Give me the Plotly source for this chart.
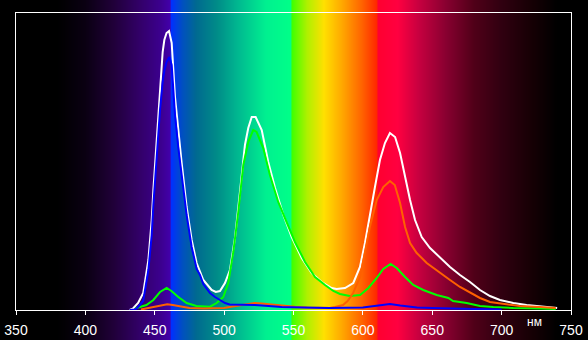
import base64
import struct
import zlib

import numpy as np
import plotly.graph_objects as go

# ---- data (relative intensity, arbitrary units) ----
white_nm = [432, 434.5, 438, 441.7, 445.4, 447.8, 449, 451.4, 453.8, 455.7, 456.9, 458.5, 460.3,
            462.2, 464.6, 467, 469.4, 473, 476.6, 480.2, 485, 491, 494, 497, 500.6, 504.2,
            507.8, 511.4, 515, 517.4, 519.9, 522.7, 527.1, 531.8, 536.7, 542.7, 548.7, 555.9,
            563.1, 570.3, 577.5, 581.1, 587.1, 593.1, 597.9, 601.5, 605.1, 608.7, 612.3, 615.9,
            619.5, 623.2, 626.8, 630.4, 634, 637.6, 642.4, 648.4, 655.6, 662.8, 670, 677.2,
            684.4, 691.6, 698.8, 708.4, 718, 727.7, 737.3, 740]
white_val = [0, 1.7, 7, 17, 50, 90, 120, 172, 222, 258, 270, 277, 279,
             267, 213, 177, 147, 103, 70, 47, 30, 20, 18, 19, 27, 40,
             72, 118, 165, 182, 193, 193, 180, 148, 122, 95, 73, 52,
             37, 28, 22, 21, 22, 27, 43, 67, 97, 123, 150, 167,
             177, 173, 157, 133, 110, 90, 73, 62, 52, 43, 35, 28,
             20, 14, 10, 7, 5, 4, 3, 2]

green_nm = [435.8, 444, 449, 453.8, 458.6, 462, 467, 473, 480, 489.8, 494.6, 499.4, 503, 506.6,
            510.2, 513.8, 517.4, 521, 523.4, 528.2, 533, 539, 545, 551, 558.3, 565.5, 572.7,
            578.7, 583.5, 590.5, 598, 604, 610, 614.7, 620, 624.4, 630.4, 636.3, 643.5, 653.2,
            661.6, 665, 674.8, 684.4, 694, 708.4, 728, 739]
green_val = [1.5, 5, 10, 18, 22, 19, 13, 7, 4, 3.3, 7, 13, 27, 58,
             98, 145, 168, 180, 178, 162, 135, 108, 88, 68, 48, 33, 25,
             19, 16, 14, 15, 22, 32, 41, 46, 42, 33, 25, 20, 15,
             12, 9, 7, 4, 3, 2, 1.5, 1]

red_nm = [440, 446, 452, 459, 463, 468, 475, 485, 495, 500, 505, 512.6, 518, 522, 527, 536.7,
          545, 551, 560, 570, 576, 580, 585.7, 589, 593, 598, 601.5, 605, 610, 614.7, 619.5,
          623, 626.8, 630.4, 634, 638.8, 646, 655.6, 662.8, 670, 677, 684.4, 691.6, 701, 713,
          727.7, 739]
red_val = [0.5, 2, 4, 5.7, 5, 3.5, 2, 1.5, 1.5, 2, 3.3, 5, 6.5, 7, 6.5, 5,
           4, 3.3, 2.5, 2.3, 2, 3, 5, 9, 17, 33, 57, 83, 110, 123, 129,
           125, 107, 83, 67, 57, 47, 37, 30, 23, 18, 12, 8, 6, 4,
           3, 2]

blue_nm = [432, 436, 438, 441.7, 445.4, 447.8, 449, 451.4, 453.8, 455.7, 457, 458.5, 460.5,
           462.2, 464.6, 467, 469.4, 473, 476.6, 480.2, 482.6, 485, 489.8, 493.4, 497, 500.6,
           504, 507.8, 515, 522, 532, 541.5, 556, 576, 600, 606, 612.3, 619.5, 627, 639, 650,
           661, 680, 700]
blue_val = [0, 0.5, 3, 9, 40, 75, 105, 155, 200, 228, 240, 248, 253,
            245, 195, 162, 136, 95, 63, 41, 35, 26, 17, 13, 10, 7,
            5.5, 5.5, 5, 5, 4, 3, 2.5, 2, 2.5, 3.5, 4.5, 6, 4.5, 2.5, 2,
            1.5, 1, 0.5]

tick_vals = [350, 400, 450, 500, 550, 600, 650, 700, 750]
tick_text = ["350", "400", "450", "500", "550", "600", "650", "700", "750"]
unit_label = "нм"

# ---- spectrum background colour stops (style) ----
bg_stop_nm = [350, 380, 400, 420, 440, 455, 461, 462, 470, 480, 495, 510, 530, 548, 549,
              560, 572, 585, 600, 610, 611, 625, 640, 660, 680, 700, 720, 740, 750]
bg_stop_hex = ["#000000", "#000000", "#0a0012", "#200038", "#33006a", "#3c0090", "#4200aa",
               "#0030ff", "#0050c0", "#006a90", "#008c88", "#00b890", "#00f090", "#00ff88",
               "#40ff00", "#b0f000", "#ffe000", "#ffa800", "#ff6000", "#ff2800", "#ff0030",
               "#ff0040", "#c80040", "#880030", "#500018", "#300010", "#180005", "#000000",
               "#000000"]


def hex2rgb(h):
    h = h.lstrip("#")
    return [int(h[i:i + 2], 16) for i in (0, 2, 4)]


def png_data_uri(pixels_rgb, height=2):
    w = len(pixels_rgb)
    row = b"\x00" + b"".join(bytes(p) for p in pixels_rgb)
    raw = row * height

    def chunk(tag, data):
        c = struct.pack(">I", len(data)) + tag + data
        return c + struct.pack(">I", zlib.crc32(tag + data) & 0xffffffff)

    png = b"\x89PNG\r\n\x1a\n"
    png += chunk(b"IHDR", struct.pack(">IIBBBBB", w, height, 8, 2, 0, 0, 0))
    png += chunk(b"IDAT", zlib.compress(raw, 9))
    png += chunk(b"IEND", b"")
    return "data:image/png;base64," + base64.b64encode(png).decode()


rgb = np.array([hex2rgb(h) for h in bg_stop_hex], dtype=float)
n_px = 555
centers = 350 + (np.arange(n_px) + 0.5) * 400.0 / n_px
pix = []
for nm in centers:
    pix.append([int(round(np.interp(nm, bg_stop_nm, rgb[:, k]))) for k in range(3)])
bg_uri = png_data_uri(pix)

fig = go.Figure()
fig.add_trace(go.Scatter(x=white_nm, y=white_val, mode="lines",
                         line=dict(color="#ffffff", width=2), hoverinfo="skip"))
fig.add_trace(go.Scatter(x=green_nm, y=green_val, mode="lines",
                         line=dict(color="#00ff00", width=2), hoverinfo="skip"))
fig.add_trace(go.Scatter(x=red_nm, y=red_val, mode="lines",
                         line=dict(color="#ff6000", width=2), hoverinfo="skip"))
fig.add_trace(go.Scatter(x=blue_nm, y=blue_val, mode="lines",
                         line=dict(color="#0000ff", width=2), hoverinfo="skip"))

fig.update_layout(
    width=588, height=340,
    margin=dict(l=16, r=17, t=13, b=30),
    paper_bgcolor="#000000", plot_bgcolor="#000000",
    showlegend=False,
    images=[dict(source=bg_uri, xref="x", yref="paper", x=350, y=1.3, sizex=400, sizey=1.7,
                 sizing="stretch", xanchor="left", yanchor="top", layer="below")],
    font=dict(family="Liberation Sans, Arial, sans-serif", color="#ffffff", size=14),
    xaxis=dict(range=[350, 750], tickvals=tick_vals, ticktext=tick_text, automargin=False,
               showgrid=False, zeroline=False, showline=True, linecolor="#ffffff",
               linewidth=1, mirror=True, ticks="outside", ticklen=4, tickcolor="#ffffff",
               tickwidth=1, tickfont=dict(size=14, color="#ffffff"), ticklabelstandoff=3),
    yaxis=dict(range=[0, 297], showgrid=False, zeroline=False, showticklabels=False,
               automargin=False,
               showline=True, linecolor="#ffffff", linewidth=1, mirror=True, ticks=""),
    annotations=[dict(x=724, y=-0.04, xref="x", yref="paper", text=unit_label,
                      showarrow=False, font=dict(size=12, color="#ffffff"),
                      xanchor="center", yanchor="middle")],
)

fig.write_html("out.html")
